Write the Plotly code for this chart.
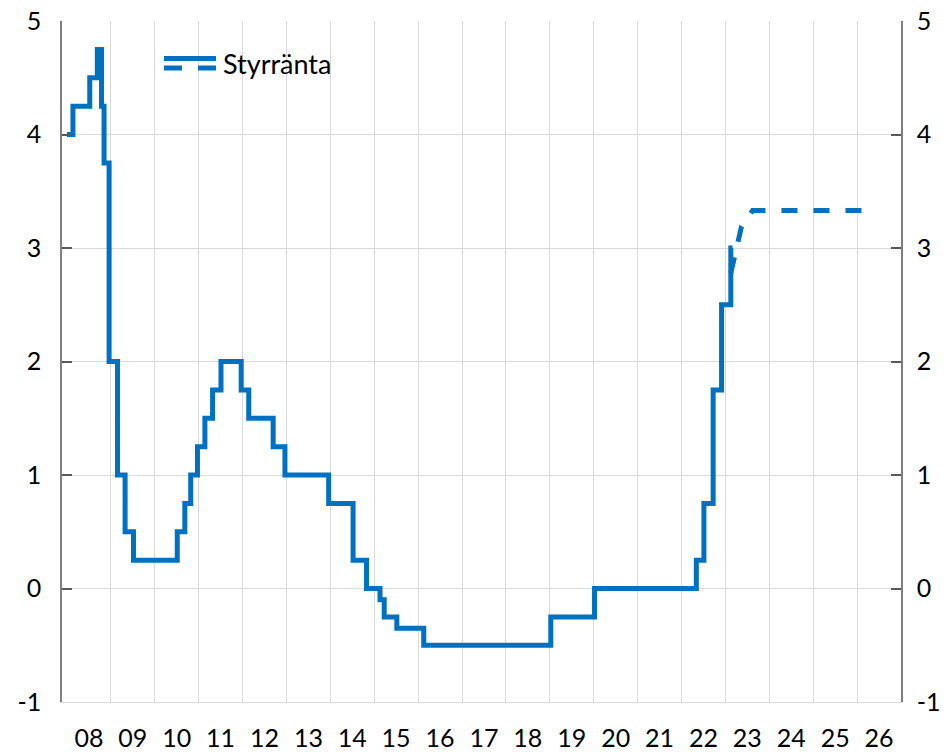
import plotly.graph_objects as go

# Policy rate (step changes: effective date, rate in %)
change_dates = [
    "2008-01-01", "2008-02-20", "2008-07-09", "2008-09-10", "2008-10-15", "2008-11-05",
    "2008-12-17", "2009-02-25", "2009-04-29", "2009-07-08", "2010-07-07", "2010-09-08",
    "2010-10-27", "2010-12-22", "2011-02-22", "2011-04-27", "2011-07-06", "2011-12-21",
    "2012-02-22", "2012-09-12", "2012-12-19", "2013-12-18", "2014-07-09", "2014-10-29",
    "2015-02-18", "2015-03-25", "2015-07-08", "2016-02-17", "2019-01-09", "2020-01-08",
    "2022-05-04", "2022-07-06", "2022-09-21", "2022-11-30", "2023-02-15", "2023-03-01",
]
rates = [
    4.00, 4.25, 4.50, 4.75, 4.25, 3.75,
    2.00, 1.00, 0.50, 0.25, 0.50, 0.75,
    1.00, 1.25, 1.50, 1.75, 2.00, 1.75,
    1.50, 1.25, 1.00, 0.75, 0.25, 0.00,
    -0.10, -0.25, -0.35, -0.50, -0.25, 0.00,
    0.25, 0.75, 1.75, 2.50, 3.00, 3.00,
]

# Forecast (quarterly, mid-quarter)
forecast_dates = [
    "2023-02-15", "2023-05-15", "2023-08-15", "2023-11-15",
    "2024-02-15", "2024-05-15", "2024-08-15", "2024-11-15",
    "2025-02-15", "2025-05-15", "2025-08-15", "2025-11-15",
    "2026-02-15",
]
forecast = [2.78, 3.19, 3.33, 3.33, 3.33, 3.33, 3.33, 3.33, 3.33, 3.33, 3.33, 3.33, 3.33]

years = list(range(2008, 2027))
year_labels = [f"{y % 100:02d}" for y in years]
y_ticks = [-1, 0, 1, 2, 3, 4, 5]

BLUE = "#0070C0"
GRID = "#d9d9d9"
FONT = "Lato"

fig = go.Figure()
fig.add_trace(go.Scatter(
    x=forecast_dates, y=forecast, mode="lines", yaxis="y2",
    line=dict(color=BLUE, width=5, dash="16px,16px"), showlegend=False, hoverinfo="skip",
))
fig.add_trace(go.Scatter(
    x=change_dates, y=rates, mode="lines", line_shape="hv",
    line=dict(color=BLUE, width=5), showlegend=False, name="Styrränta",
))

# Pixel helpers for legend placement
W, H = 946, 752
L, R, T, B = 62, 45, 21, 50
pw, ph = W - L - R, H - T - B
def px(x):
    return (x - L) / pw
def py(y):
    return (H - B - y) / ph

shapes = [
    dict(type="line", xref="paper", yref="paper", x0=px(164), x1=px(216), y0=py(58.5), y1=py(58.5),
         line=dict(color=BLUE, width=5)),
    dict(type="line", xref="paper", yref="paper", x0=px(164), x1=px(182), y0=py(68), y1=py(68),
         line=dict(color=BLUE, width=5)),
    dict(type="line", xref="paper", yref="paper", x0=px(198), x1=px(216), y0=py(68), y1=py(68),
         line=dict(color=BLUE, width=5)),
]

fig.update_layout(
    width=W, height=H,
    margin=dict(l=L, r=R, t=T, b=B, autoexpand=False),
    paper_bgcolor="white", plot_bgcolor="white",
    font=dict(family=FONT, size=25, color="black"),
    showlegend=False,
    shapes=shapes,
    annotations=[dict(text="Styrränta", xref="paper", yref="paper", x=px(221), y=py(63),
                      xanchor="left", yanchor="middle", showarrow=False,
                      font=dict(family=FONT, size=27, color="black"))],
    xaxis=dict(
        type="date", range=["2007-11-21", "2027-01-01"], automargin=False,
        tickmode="array", tickvals=[f"{y}-07-02" for y in years], ticktext=year_labels,
        ticks="", showgrid=False, zeroline=False,
        showline=True, linecolor=GRID, linewidth=1.3,
        ticklabelstandoff=14,
        minor=dict(tickmode="array", tickvals=[f"{y}-01-01" for y in range(2009, 2027)],
                   showgrid=True, gridcolor=GRID, gridwidth=1.3, ticks=""),
    ),
    yaxis=dict(
        range=[-1, 5], automargin=False,
        tickmode="array", tickvals=y_ticks, ticktext=[str(v) for v in y_ticks],
        ticks="inside", ticklen=10, tickwidth=1.5, tickcolor="#595959",
        showline=True, linecolor="#7f7f7f", linewidth=1.5,
        showgrid=True, gridcolor=GRID, gridwidth=1.3, zeroline=False,
        ticklabelstandoff=14,
    ),
    yaxis2=dict(
        range=[-1, 5], overlaying="y", side="right", anchor="x", automargin=False,
        tickmode="array", tickvals=y_ticks, ticktext=[str(v) for v in y_ticks],
        ticks="inside", ticklen=10, tickwidth=1.5, tickcolor="#595959",
        showline=True, linecolor="#7f7f7f", linewidth=1.5,
        showgrid=False, zeroline=False,
        ticklabelstandoff=9,
    ),
)

fig.write_html(
    "out.html",
    config={"displayModeBar": False},
    post_script="document.body.style.margin='0px';document.body.style.overflow='hidden';",
)
